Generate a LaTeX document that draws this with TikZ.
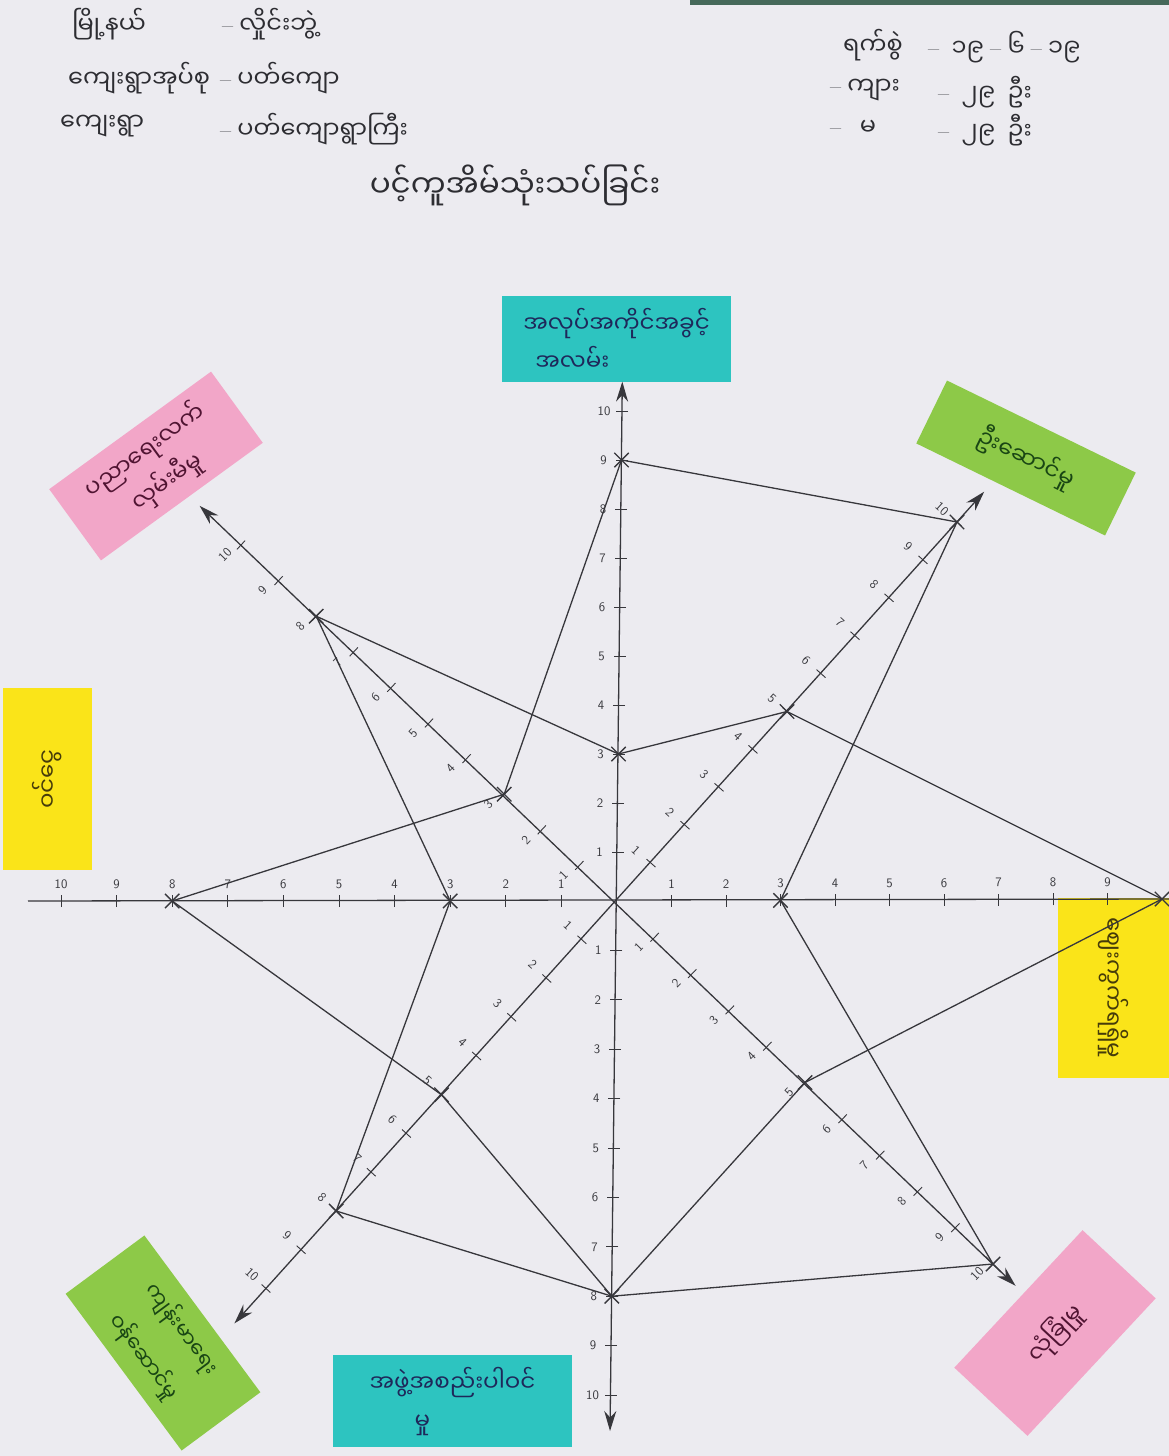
\documentclass[tikz,border=0pt]{standalone}
\usepackage{fontspec}
\newfontfamily\mm[Script=Myanmar]{Noto Sans Myanmar UI}
\newcommand\mmhy{{\rmfamily\textendash}}
\usetikzlibrary{calc,arrows.meta,shapes.misc}
\definecolor{paper}{RGB}{236,235,240}
\definecolor{ink}{RGB}{55,55,60}
\definecolor{pencil}{RGB}{45,45,50}
\definecolor{cyanN}{RGB}{45,196,192}
\definecolor{pinkN}{RGB}{242,166,200}
\definecolor{greenN}{RGB}{141,201,72}
\definecolor{yellowN}{RGB}{250,228,25}
\definecolor{cyanT}{RGB}{30,40,90}
\definecolor{pinkT}{RGB}{80,20,50}
\definecolor{greenT}{RGB}{25,70,20}
\definecolor{yellowT}{RGB}{70,60,10}
\definecolor{stripc}{RGB}{70,105,90}
\begin{document}
\begin{tikzpicture}[x=1pt,y=-1pt,
  ax/.style={line width=1.3pt, draw=ink},
  tipped/.style={{Stealth[length=20pt,width=12pt]}-{Stealth[length=20pt,width=12pt]}},
  poly/.style={line width=1.3pt, draw=ink, line join=round},
  tck/.style={line width=0.9pt, draw=ink},
  mk/.style={draw=ink, cross out, line width=1.4pt, minimum size=13pt, inner sep=0pt},
  note/.style={inner sep=0pt, align=center, font=\mm\fontsize{23}{38}\selectfont},
  num/.style={font=\sffamily\fontsize{13}{13}\selectfont, text=ink, inner sep=1pt},
  hdr/.style={font=\mm\fontsize{24}{28}\selectfont, text=pencil, anchor=west, inner sep=0pt},
]
\useasboundingbox (0,0) rectangle (1169,1456);
\fill[paper] (0,0) rectangle (1169,1456);
\fill[stripc] (690,0) rectangle (1169,5);

% ---------- header ----------
\node[hdr] (h1a) at (72,24) {မြို့နယ်};
\node[hdr] (h1b) at (222,24) {\mmhy\ လှိုင်းဘွဲ့};
\node[hdr] (h2a) at (68,78) {ကျေးရွာအုပ်စု};
\node[hdr] (h2b) at (220,78) {\mmhy\ ပတ်ကျော};
\node[hdr] (h3a) at (60,126) {ကျေးရွာ};
\node[hdr] (h3b) at (220,129) {\mmhy\ ပတ်ကျောရွာကြီး};
\node[hdr] (r1a) at (843,45) {ရက်စွဲ};
\node[hdr] (r1b) at (928,47) {\mmhy\ \ ၁၉ \mmhy\ ၆ \mmhy\ ၁၉};
\node[hdr] (r2a) at (830,90) {\mmhy\ ကျား};
\node[hdr] (r2b) at (938,92) {\mmhy\ \ ၂၉\ \ ဦး};
\node[hdr] (r3a) at (830,128) {\mmhy\ \ \ မ};
\node[hdr] (r3b) at (938,130) {\mmhy\ \ ၂၉\ \ ဦး};
\node[hdr, anchor=center, font=\mm\fontsize{31}{36}\selectfont] (title) at (515,185) {ပင့်ကူအိမ်သုံးသပ်ခြင်း};

% ---------- sticky notes ----------
\node[note, fill=cyanN, text=cyanT, minimum width=229pt, minimum height=86pt, align=left] (nN) at (616.5,339) {အလုပ်အကိုင်အခွင့်\\\hspace*{12pt}အလမ်း};
\node[note, fill=pinkN, text=pinkT, minimum width=200pt, minimum height=88pt, rotate=36] (nNW) at (156,466) {ပညာရေးလက်\\လှမ်းမီမှု};
\node[note, fill=greenN, text=greenT, minimum width=210pt, minimum height=70pt, rotate=-26] (nNE) at (1026,458) {ဦးဆောင်မှု};
\node[note, fill=yellowN, text=yellowT, minimum width=182pt, minimum height=89pt, rotate=90] (nW) at (47.5,779) {ဝင်ငွေ};
\node[note, fill=yellowN, text=yellowT, minimum width=180pt, minimum height=111pt, rotate=-90] (nE) at (1113.5,988) {ဈေးကွက်ရရှိမှု};
\node[note, fill=greenN, text=greenT, minimum width=195pt, minimum height=98pt, rotate=-53.5, font=\mm\fontsize{21}{47}\selectfont] (nSW) at (163,1343) {ကျန်းမာရေး\\ဝန်ဆောင်မှု};
\node[note, fill=cyanN, text=cyanT, minimum width=239pt, minimum height=92pt, align=left] (nS) at (452.5,1401) {အဖွဲ့အစည်းပါဝင်\\\hspace*{45pt}မှု};
\node[note, fill=pinkN, text=pinkT, minimum width=188pt, minimum height=100pt, rotate=47] (nSE) at (1055,1333) {လုံခြုံမှု};

% ---------- axes ----------
\coordinate (O) at (617,901);
\coordinate (uN) at (0.5,-49);
\coordinate (uS) at (-0.65,49.4);
\coordinate (uE) at (54.5,-0.2);
\coordinate (uW) at (-55.6,0);
\coordinate (uNE) at (34,-37.9);
\coordinate (uNW) at (-37.6,-35.6);
\coordinate (uSW) at (-35.1,38.75);
\coordinate (uSE) at (37.6,36.3);
\coordinate (pN) at (6,0);
\coordinate (pS) at (6,0);
\coordinate (pE) at (0,6);
\coordinate (pW) at (0,6);
\coordinate (pNE) at (4.5,4);
\coordinate (pNW) at (4.1,-4.4);
\coordinate (pSW) at (4.4,4);
\coordinate (pSE) at (4.2,-4.3);
\coordinate (lN) at (-18,0);
\coordinate (lS) at (-18,0);
\coordinate (lE) at (0,-17);
\coordinate (lW) at (0,-17);
\coordinate (lNE) at (-15,-13);
\coordinate (lNW) at (-16,10);
\coordinate (lSW) at (-14,-14);
\coordinate (lSE) at (-16,10);

\coordinate (tN) at ($(O)+10.6*(uN)$);
\coordinate (tS) at ($(O)+10.73*(uS)$);
\coordinate (tNE) at ($(O)+10.8*(uNE)$);
\coordinate (tSW) at ($(O)+10.9*(uSW)$);
\coordinate (tNW) at ($(O)+11.1*(uNW)$);
\coordinate (tSE) at ($(O)+10.6*(uSE)$);
\coordinate (tW) at (28,901);
\coordinate (tE) at (1169,899);

\draw[ax] (tW) -- (tE);
\draw[ax, tipped] (tS) -- (tN);
\draw[ax, tipped] (tSW) -- (tNE);
\draw[ax, tipped] (tSE) -- (tNW);

\foreach \u/\p/\l/\r/\m in {uN/pN/lN/0/10, uS/pS/lS/0/10, uE/pE/lE/0/9, uW/pW/lW/0/10,
    uNE/pNE/lNE/-42/10, uSW/pSW/lSW/-42/10, uNW/pNW/lNW/46/10, uSE/pSE/lSE/46/10} {
  \foreach \k in {1,...,\m} {
    \draw[tck] ($(O)+\k*(\u)+(\p)$) -- ($(O)+\k*(\u)-(\p)$);
    \node[num, rotate=\r] (lab-\u-\k) at ($(O)+\k*(\u)+(\l)$) {\k};
  }
}

% ---------- data points ----------
\node[mk] (N3) at ($(O)+3*(uN)$) {};
\node[mk] (N9) at ($(O)+9*(uN)$) {};
\node[mk] (NE5) at ($(O)+5*(uNE)$) {};
\node[mk] (NE10) at ($(O)+10*(uNE)$) {};
\node[mk] (E3) at ($(O)+3*(uE)$) {};
\node[mk] (E10) at ($(O)+10*(uE)$) {};
\node[mk] (SE5) at ($(O)+5*(uSE)$) {};
\node[mk] (SE10) at ($(O)+10*(uSE)$) {};
\node[mk] (S8) at ($(O)+8*(uS)$) {};
\node[mk] (SW5) at ($(O)+5*(uSW)$) {};
\node[mk] (SW8) at ($(O)+8*(uSW)$) {};
\node[mk] (W3) at ($(O)+3*(uW)$) {};
\node[mk] (W8) at ($(O)+8*(uW)$) {};
\node[mk] (NW3) at ($(O)+3*(uNW)$) {};
\node[mk] (NW8) at ($(O)+8*(uNW)$) {};

\draw[poly] (N9.center) -- (NE10.center) -- (E3.center) -- (SE10.center) -- (S8.center)
  -- (SW5.center) -- (W8.center) -- (NW3.center) -- cycle;
\draw[poly] (N3.center) -- (NE5.center) -- (E10.center) -- (SE5.center) -- (S8.center)
  -- (SW8.center) -- (W3.center) -- (NW8.center) -- cycle;
\end{tikzpicture}
\end{document}
